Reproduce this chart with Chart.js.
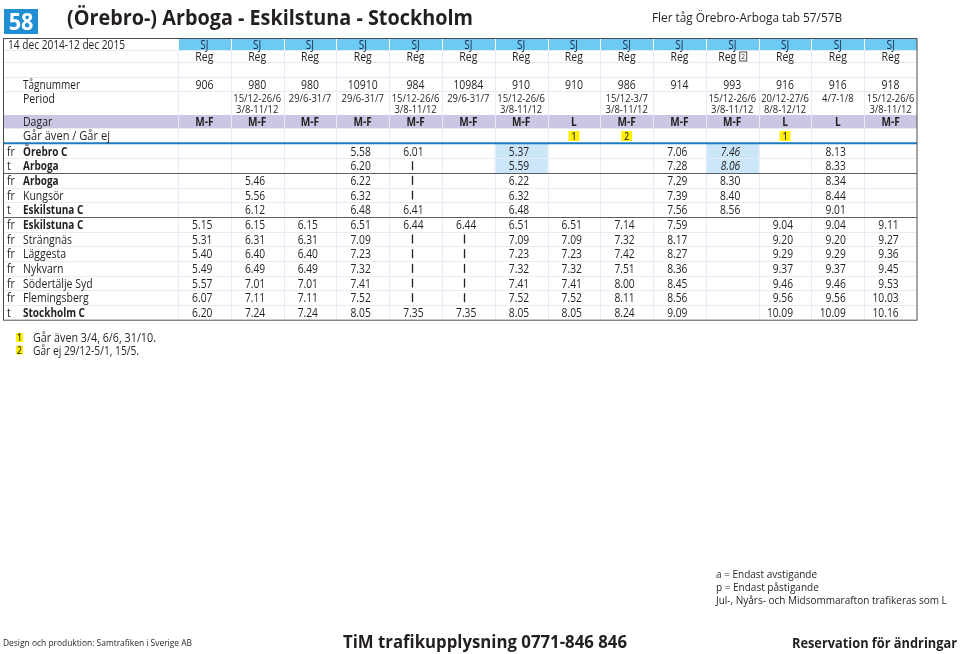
<!DOCTYPE html>
<html><head><meta charset="utf-8">
<script src="https://cdn.jsdelivr.net/npm/chart.js@4.4.1/dist/chart.umd.min.js"></script>
<style>html,body{margin:0;padding:0;background:#fff}canvas{display:block}</style>
</head><body>
<canvas id="c" width="960" height="654"></canvas>
<script>
// ---------- DATA ----------
const operators = ['SJ','SJ','SJ','SJ','SJ','SJ','SJ','SJ','SJ','SJ','SJ','SJ','SJ','SJ'];
const products = ['Reg','Reg','Reg','Reg','Reg','Reg','Reg','Reg','Reg','Reg','Reg','Reg','Reg','Reg'];
const productNotes = ['','','','','','','','','','','2','','',''];
const trainNumbers = ['906','980','980','10910','984','10984','910','910','986','914','993','916','916','918'];
const periods = [[],['15/12-26/6','3/8-11/12'],['29/6-31/7'],['29/6-31/7'],['15/12-26/6','3/8-11/12'],['29/6-31/7'],['15/12-26/6','3/8-11/12'],[],['15/12-3/7','3/8-11/12'],[],['15/12-26/6','3/8-11/12'],['20/12-27/6','8/8-12/12'],['4/7-1/8'],['15/12-26/6','3/8-11/12']];
const days = ['M-F','M-F','M-F','M-F','M-F','M-F','M-F','L','M-F','M-F','M-F','L','L','M-F'];
const footnoteRefs = ['','','','','','','','1','2','','','1','',''];
const stations = ['Örebro C','Arboga','Arboga','Kungsör','Eskilstuna C','Eskilstuna C','Strängnäs','Läggesta','Nykvarn','Södertälje Syd','Flemingsberg','Stockholm C'];
const stationKinds = ['fr','t','fr','fr','t','fr','fr','fr','fr','fr','fr','t'];
const stationMajor = [true,true,true,false,true,true,false,false,false,false,false,true];

const t906   = ['','','','','','5.15','5.31','5.40','5.49','5.57','6.07','6.20'];
const t980a  = ['','','5.46','5.56','6.12','6.15','6.31','6.40','6.49','7.01','7.11','7.24'];
const t980b  = ['','','','','','6.15','6.31','6.40','6.49','7.01','7.11','7.24'];
const t10910 = ['5.58','6.20','6.22','6.32','6.48','6.51','7.09','7.23','7.32','7.41','7.52','8.05'];
const t984   = ['6.01','|','|','|','6.41','6.44','|','|','|','|','|','7.35'];
const t10984 = ['','','','','','6.44','|','|','|','|','|','7.35'];
const t910a  = ['5.37','5.59','6.22','6.32','6.48','6.51','7.09','7.23','7.32','7.41','7.52','8.05'];
const t910b  = ['','','','','','6.51','7.09','7.23','7.32','7.41','7.52','8.05'];
const t986   = ['','','','','','7.14','7.32','7.42','7.51','8.00','8.11','8.24'];
const t914   = ['7.06','7.28','7.29','7.39','7.56','7.59','8.17','8.27','8.36','8.45','8.56','9.09'];
const t993   = ['7.46','8.06','8.30','8.40','8.56','','','','','','',''];
const t916a  = ['','','','','','9.04','9.20','9.29','9.37','9.46','9.56','10.09'];
const t916b  = ['8.13','8.33','8.34','8.44','9.01','9.04','9.20','9.29','9.37','9.46','9.56','10.09'];
const t918   = ['','','','','','9.11','9.27','9.36','9.45','9.53','10.03','10.16'];
const timeColumns = [t906,t980a,t980b,t10910,t984,t10984,t910a,t910b,t986,t914,t993,t916a,t916b,t918];

const footnotes = [['1','Går även 3/4, 6/6, 31/10.'],['2','Går ej 29/12-5/1, 15/5.']];
const legendNotes = ['a = Endast avstigande','p = Endast påstigande','Jul-, Nyårs- och Midsommarafton trafikeras som L'];

// ---------- STYLE ----------
const C = {text:'#231f20', sj:'#6dcaf2', days:'#cac6e3', hl:'#cae6f8', grid:'#e4edf5', border:'#4d4d4f',
           blue:'#1b7cc0', yellow:'#fff200', badge:'#1f8fd3'};
const highlightCells = [[7,1],[7,2],[11,1],[11,2]];
const italicCells = [[11,1],[11,2]];
const FONT = '"Open Sans","Noto Sans",sans-serif';

function txt(ctx, s, x, y, o = {}) {
  const size = o.size || 12;
  ctx.save();
  ctx.font = `${o.italic ? 'italic ' : ''}${o.weight || '500'} ${size}px ${FONT}`;
  ctx.fillStyle = o.color || C.text;
  ctx.textBaseline = 'alphabetic'; ctx.textAlign = 'left';
  const raw = ctx.measureText(s).width;
  const sx = o.width ? o.width / raw : (o.sx || 0.84);
  const w = raw * sx;
  const x0 = o.align === 'center' ? x - w / 2 : o.align === 'right' ? x - w : x;
  ctx.translate(x0, y + 0.36 * size);
  ctx.scale(sx, 1);
  ctx.fillText(s, 0, 0);
  ctx.restore();
  return w;
}
function hline(ctx, x1, x2, y, color, lw = 1) {
  ctx.save(); ctx.strokeStyle = color; ctx.lineWidth = lw;
  ctx.beginPath(); ctx.moveTo(x1, y); ctx.lineTo(x2, y); ctx.stroke(); ctx.restore();
}
function vline(ctx, x, y1, y2, color, lw = 1) {
  ctx.save(); ctx.strokeStyle = color; ctx.lineWidth = lw;
  ctx.beginPath(); ctx.moveTo(x, y1); ctx.lineTo(x, y2); ctx.stroke(); ctx.restore();
}
function badge(ctx, n, cx, cy, w, h) {
  ctx.save(); ctx.fillStyle = C.yellow; ctx.fillRect(cx - w / 2, cy - h / 2, w, h); ctx.restore();
  txt(ctx, n, cx, cy, {size: 10, weight: '600', align: 'center', color: '#3b3a1a'});
}

const cellPoints = [];
timeColumns.forEach((col, ci) => col.forEach((v, ri) => { if (v) cellPoints.push({x: ci + 1, y: ri + 1, v}); }));

const H = {top: 38, sjB: 50, regB: 62, blankB: 77, trainB: 91, periodB: 115, daysB: 128,
           sjY: 44.5, regY: 56.5, trainY: 84, perY1: 98, perY2: 109, daysY: 121.5, noteY: 135};
const LEFT = 3;

const timetable = {
  id: 'timetable',
  beforeDraw(chart) {
    const ctx = chart.ctx, xs = chart.scales.x, ys = chart.scales.y;
    const R = xs.right, n = trainNumbers.length;
    ctx.save(); ctx.fillStyle = '#fff'; ctx.fillRect(0, 0, chart.width, chart.height); ctx.restore();
    ctx.save();
    ctx.fillStyle = C.sj; ctx.fillRect(xs.getPixelForValue(0.5), H.top, R - xs.getPixelForValue(0.5), H.sjB - H.top);
    ctx.fillStyle = C.days; ctx.fillRect(LEFT, H.periodB, R - LEFT, H.daysB - H.periodB);
    ctx.fillStyle = C.hl;
    highlightCells.forEach(([c, r]) => {
      const x1 = xs.getPixelForValue(c - 0.5), x2 = xs.getPixelForValue(c + 0.5);
      const y1 = ys.getPixelForValue(r - 0.5), y2 = ys.getPixelForValue(r + 0.5);
      ctx.fillRect(x1, y1, x2 - x1, y2 - y1);
    });
    ctx.restore();
    for (let c = 1; c <= n; c++) {
      const x = Math.round(xs.getPixelForValue(c - 0.5)) + 0.5;
      vline(ctx, x, H.top, H.sjB, '#ffffff');
      vline(ctx, x, H.sjB, ys.bottom, C.grid);
    }
    [H.sjB, H.regB, H.blankB, H.trainB].forEach(y => hline(ctx, LEFT, R, y + 0.5, C.grid));
    hline(ctx, LEFT, R, H.daysB + 0.5, C.grid);
    for (let r = 1; r < stations.length; r++) {
      if (r === 2 || r === 5) continue;
      hline(ctx, LEFT, R, Math.round(ys.getPixelForValue(r + 0.5)) + 0.5, C.grid);
    }
  },
  afterDraw(chart) {
    const ctx = chart.ctx, xs = chart.scales.x, ys = chart.scales.y;
    const R = xs.right;
    [2.5, 5.5].forEach(v => hline(ctx, LEFT, R, Math.round(ys.getPixelForValue(v)) + 0.5, '#5c5d60'));
    hline(ctx, LEFT, R, ys.top - 0.5, C.blue, 2);
    ctx.save(); ctx.strokeStyle = C.border; ctx.lineWidth = 1;
    ctx.strokeRect(LEFT + 0.5, H.top + 0.5, R - LEFT - 0.5, ys.bottom - H.top); ctx.restore();

    txt(ctx, '14 dec 2014-12 dec 2015', 8, H.sjY, {size: 12.5, width: 117});
    txt(ctx, 'Tågnummer', 23, H.trainY, {size: 12.5, width: 57});
    txt(ctx, 'Period', 23, H.perY1, {size: 12.5});
    txt(ctx, 'Dagar', 23, H.daysY, {size: 12.5});
    txt(ctx, 'Går även / Går ej', 23, H.noteY, {size: 12.5, width: 87});
    trainNumbers.forEach((tn, i) => {
      const cx = xs.getPixelForValue(i + 1);
      txt(ctx, operators[i], cx, H.sjY, {size: 12, align: 'center', color: '#1b2a4a'});
      if (productNotes[i]) {
        const w = txt(ctx, products[i], cx - 5, H.regY, {size: 12.5, align: 'center'});
        const bx = cx - 5 + w / 2 + 3;
        ctx.save(); ctx.strokeStyle = C.text; ctx.lineWidth = 0.8;
        ctx.strokeRect(bx + 0.5, H.regY - 4.5, 7, 9); ctx.restore();
        txt(ctx, productNotes[i], bx + 4, H.regY, {size: 8, align: 'center'});
      } else {
        txt(ctx, products[i], cx, H.regY, {size: 12.5, align: 'center'});
      }
      txt(ctx, tn, cx, H.trainY, {size: 12.5, align: 'center'});
      const p = periods[i];
      if (p[0]) txt(ctx, p[0], cx, H.perY1, {size: 11.5, align: 'center', sx: 0.82});
      if (p[1]) txt(ctx, p[1], cx, H.perY2, {size: 11.5, align: 'center', sx: 0.82});
      txt(ctx, days[i], cx, H.daysY, {size: 12, weight: 'bold', align: 'center'});
      if (footnoteRefs[i]) badge(ctx, footnoteRefs[i], cx, H.noteY + 1, 11, 10);
    });

    stations.forEach((s, r) => {
      const y = ys.getPixelForValue(r + 1);
      txt(ctx, stationKinds[r], 7, y, {size: 12.5});
      txt(ctx, s, 23, y, {size: 12.5, weight: stationMajor[r] ? 'bold' : '500', sx: stationMajor[r] ? 0.8 : 0.84});
    });

    const meta = chart.getDatasetMeta(0);
    const data = chart.data.datasets[0].data;
    meta.data.forEach((el, i) => {
      const d = data[i];
      if (d.v === '|') {
        vline(ctx, Math.round(el.x - 4) + 0.5, el.y - 4.5, el.y + 4.5, C.text, 1.3);
      } else {
        const it = italicCells.some(([c, r]) => c === d.x && r === d.y);
        txt(ctx, d.v, el.x + 8, el.y, {size: 12.5, align: 'right', italic: it, sx: 0.82});
      }
    });

    ctx.save(); ctx.fillStyle = C.badge; ctx.fillRect(4, 9, 34, 25); ctx.restore();
    txt(ctx, '58', 21, 21.5, {size: 24, weight: 'bold', align: 'center', color: '#fff', sx: 0.9});
    txt(ctx, '(Örebro-) Arboga - Eskilstuna - Stockholm', 67, 17.5, {size: 21, weight: 'bold', width: 406});
    txt(ctx, 'Fler tåg Örebro-Arboga tab 57/57B', 652, 17, {size: 13, width: 190});

    const fnWidths = [123, 106];
    footnotes.forEach(([n, s], k) => {
      const y = 337.5 + k * 12.5;
      badge(ctx, n, 19.5, y, 7, 9);
      txt(ctx, s, 33, y, {size: 12.5, width: fnWidths[k]});
    });
    legendNotes.forEach((s, k) => txt(ctx, s, 716, 574 + k * 13, {size: 11.5, sx: 0.87}));
    txt(ctx, 'Design och produktion: Samtrafiken i Sverige AB', 3, 643, {size: 9.5, width: 189});
    txt(ctx, 'TiM trafikupplysning 0771-846 846', 343, 642, {size: 18, weight: 'bold', width: 284});
    txt(ctx, 'Reservation för ändringar', 792, 643, {size: 14.5, weight: 'bold', width: 165});
  }
};

new Chart(document.getElementById('c').getContext('2d'), {
  type: 'scatter',
  data: {datasets: [{label: 'Tider', data: cellPoints, pointRadius: 0, pointHoverRadius: 0, showLine: false}]},
  options: {
    responsive: false, animation: false, devicePixelRatio: 1, events: [],
    layout: {padding: {left: 178, right: 43, top: 143.7, bottom: 334.3}},
    scales: {
      x: {type: 'linear', min: 0.5, max: 14.5, display: false},
      y: {type: 'linear', min: 0.5, max: 12.5, reverse: true, display: false}
    },
    plugins: {legend: {display: false}, tooltip: {enabled: false}}
  },
  plugins: [timetable]
});
</script>
</body></html>
